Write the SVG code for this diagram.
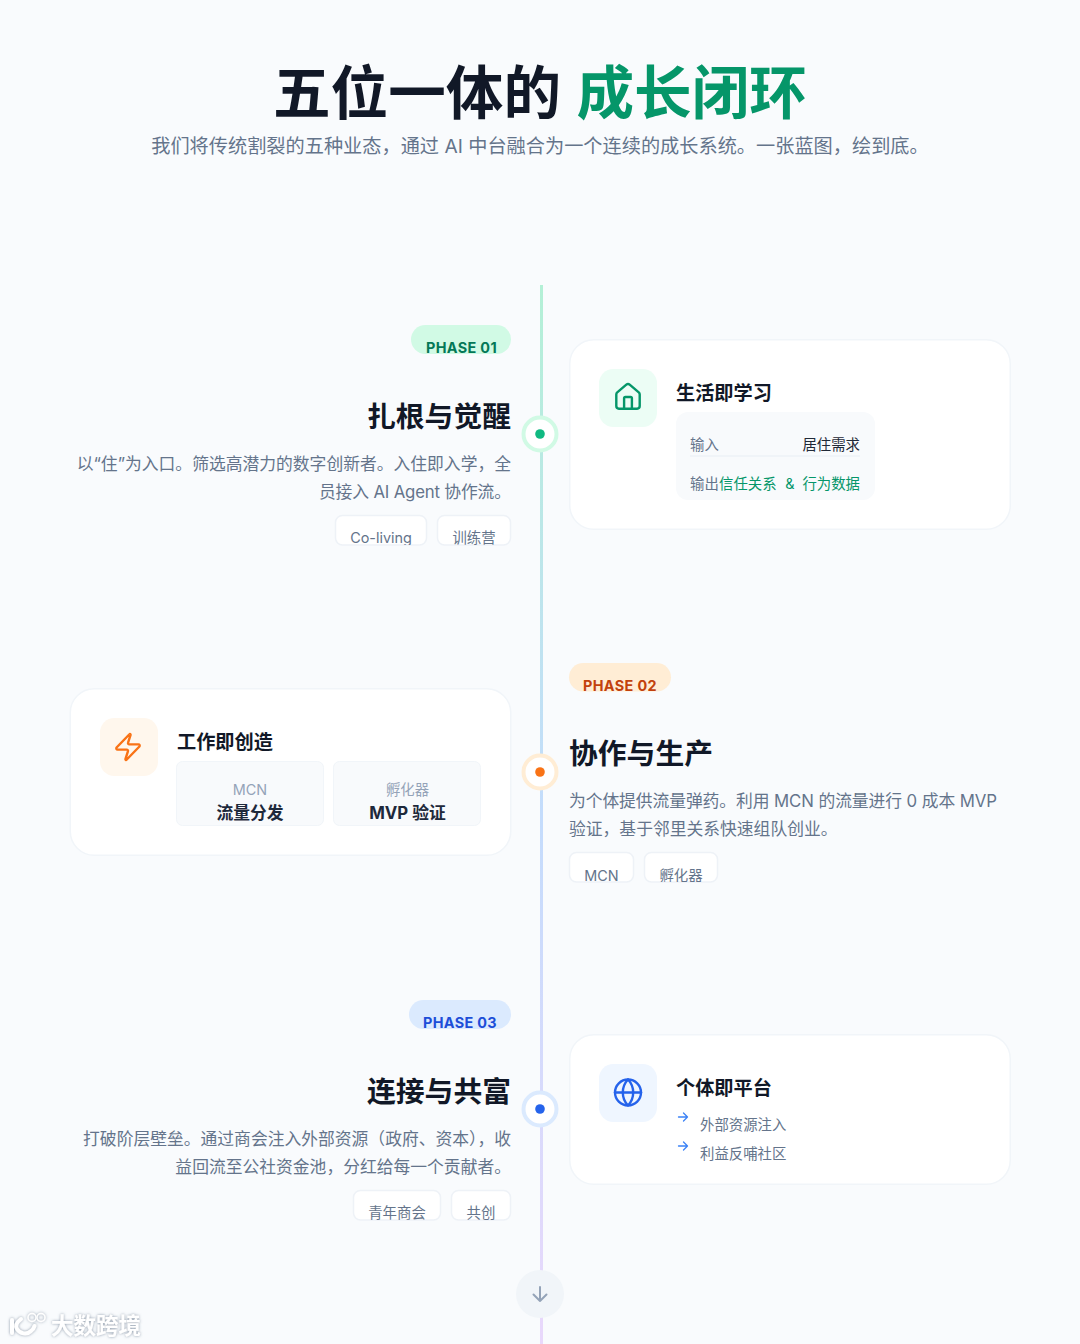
<svg xmlns="http://www.w3.org/2000/svg" width="1080" height="1344" viewBox="0 0 1080 1344">
<style>
text{font-family:"Inter","Noto Sans CJK SC",sans-serif;text-spacing-trim:space-all}
.h{font-size:28.8px;font-weight:700;fill:#111827}
.b{font-size:16.8px;fill:#64748b}
.e{text-anchor:end}
.m{text-anchor:middle}
.p{font-size:14.4px;font-weight:700;letter-spacing:.36px}
.tag{fill:#fff;stroke:#eef2f7;stroke-width:1.5}
.t{font-size:14.4px;fill:#64748b}
.card{fill:#fff;stroke:#f1f5f9;stroke-width:1.5}
.ct{font-size:19.2px;font-weight:700;fill:#111827}
.s{font-size:14.4px}
.ic{fill:none;stroke-width:1.85;stroke-linecap:round;stroke-linejoin:round}
.ar{fill:none;stroke:#3b82f6;stroke-width:1.3;stroke-linecap:round;stroke-linejoin:round}
.trim{text-spacing-trim:normal}
</style>
<defs>
<linearGradient id="line" x1="0" y1="285" x2="0" y2="1344" gradientUnits="userSpaceOnUse">
<stop offset="0" stop-color="#b4f0d6"/><stop offset=".5" stop-color="#c4dcfc"/><stop offset="1" stop-color="#e9d8fb"/>
</linearGradient>
<clipPath id="c1"><rect x="335" y="515" width="176" height="30"/></clipPath>
<clipPath id="c2"><rect x="569" y="852" width="149" height="30"/></clipPath>
<clipPath id="c3"><rect x="353" y="1190" width="158" height="30"/></clipPath>
<filter id="ws" x="-20%" y="-30%" width="140%" height="160%"><feDropShadow dx="0" dy="0" stdDeviation="1.6" flood-color="#64748b" flood-opacity=".75"/></filter>
</defs>
<rect width="1080" height="1344" fill="#f9fbfd"/>
<g id="header">
<text x="273" y="114" font-size="57.600" font-weight="700" fill="#111827">五位一体的</text>
<text x="576.500" y="114" font-size="57.600" font-weight="700" fill="#059669">成长闭环</text>
<text x="540" y="153" class="m" font-size="19.200" fill="#64748b">我们将传统割裂的五种业态，通过 AI 中台融合为一个连续的成长系统。一张蓝图，绘到底。</text>
</g>
<g id="connectors">
<rect x="540" y="285" width="3" height="1059" fill="url(#line)"/>
</g>
<g id="dot1"><circle cx="540" cy="434" r="16.500" fill="#fff" stroke="#d1fae5" stroke-width="4"/><circle cx="540" cy="434" r="4.800" fill="#10b981"/></g>
<g id="dot2"><circle cx="540" cy="772" r="16.500" fill="#fff" stroke="#ffedd5" stroke-width="4"/><circle cx="540" cy="772" r="4.800" fill="#f97316"/></g>
<g id="dot3"><circle cx="540" cy="1109" r="16.500" fill="#fff" stroke="#dbeafe" stroke-width="4"/><circle cx="540" cy="1109" r="4.800" fill="#2563eb"/></g>
<g id="phase1">
<rect x="411" y="325" width="100" height="29" rx="14.400" fill="#d1fae5"/>
<text x="461.500" y="353" class="p m" fill="#047857">PHASE 01</text>
<text x="511" y="427" class="h e">扎根与觉醒</text>
<text x="511" y="470" class="b e">以“住”为入口。筛选高潜力的数字创新者。入住即入学，全</text>
<text x="511" y="497.500" class="b e" textLength="192" lengthAdjust="spacing">员接入 AI Agent 协作流。</text>
<rect class="tag" x="335.500" y="515.500" width="91" height="29.500" rx="7"/>
<rect class="tag" x="437.500" y="515.500" width="73" height="29.500" rx="7"/>
<g clip-path="url(#c1)"><text x="381" y="543" class="t m">Co-living</text><text x="474" y="543" class="t m">训练营</text></g>
</g>
<g id="card1">
<rect class="card" x="569.750" y="339.750" width="440.500" height="189.500" rx="24"/>
<rect x="599" y="369" width="58" height="58" rx="14.400" fill="#ecfdf5"/>
<g class="ic" stroke="#059669" transform="translate(612.400 381.400) scale(1.300)"><path d="M15 21v-8a1 1 0 0 0-1-1h-4a1 1 0 0 0-1 1v8"/><path d="M3 10a2 2 0 0 1 .709-1.528l7-5.999a2 2 0 0 1 2.582 0l7 5.999A2 2 0 0 1 21 10v9a2 2 0 0 1-2 2H5a2 2 0 0 1-2-2z"/></g>
<text x="676" y="400" class="ct">生活即学习</text>
<rect x="676" y="412" width="199" height="88" rx="12" fill="#f8fafc"/>
<text x="690" y="450" class="s" fill="#64748b">输入</text>
<text x="860" y="450" class="s e" fill="#1f2937">居住需求</text>
<line x1="690" y1="456" x2="860" y2="456" stroke="#e8edf3" stroke-width="1.200"/>
<text x="690" y="489" class="s" fill="#64748b">输出</text>
<text x="719" y="489" class="s" fill="#059669">信任关系</text>
<text x="790" y="489" class="s m" fill="#059669">&amp;</text>
<text x="860" y="489" class="s e" fill="#059669">行为数据</text>
</g>
<g id="phase2">
<rect x="569" y="663" width="102" height="28.500" rx="14.250" fill="#ffedd5"/>
<text x="620" y="690.500" class="p m" fill="#c2410c">PHASE 02</text>
<text x="569" y="764" class="h">协作与生产</text>
<text x="569" y="807" class="b" textLength="428" lengthAdjust="spacing">为个体提供流量弹药。利用 MCN 的流量进行 0 成本 MVP</text>
<text x="569" y="834.500" class="b">验证，基于邻里关系快速组队创业。</text>
<rect class="tag" x="569.500" y="852.500" width="64" height="29.500" rx="7"/>
<rect class="tag" x="644.500" y="852.500" width="73" height="29.500" rx="7"/>
<g clip-path="url(#c2)"><text x="601.500" y="881" class="t m">MCN</text><text x="681" y="881" class="t m">孵化器</text></g>
</g>
<g id="card2">
<rect class="card" x="70.250" y="688.750" width="440.500" height="166.500" rx="24"/>
<rect x="100" y="718" width="58" height="58" rx="14.400" fill="#fff7ed"/>
<g class="ic" stroke="#f97316" transform="translate(112.400 731.400) scale(1.300)"><path d="M4 14a1 1 0 0 1-.78-1.630l9.900-10.200a.5.500 0 0 1 .86.460l-1.920 6.020A1 1 0 0 0 13 10h7a1 1 0 0 1 .78 1.630l-9.900 10.200a.5.500 0 0 1-.86-.460l1.920-6.020A1 1 0 0 0 11 14z"/></g>
<text x="177" y="749" class="ct">工作即创造</text>
<rect x="176.500" y="761.500" width="147" height="64" rx="6" fill="#f8fafc" stroke="#f1f5f9"/>
<rect x="333.500" y="761.500" width="147" height="64" rx="6" fill="#f8fafc" stroke="#f1f5f9"/>
<text x="250" y="795" class="s m" fill="#94a3b8">MCN</text>
<text x="407.500" y="795" class="s m" fill="#94a3b8">孵化器</text>
<text x="250" y="818.500" class="m" font-size="16.800" font-weight="700" fill="#1e293b">流量分发</text>
<text x="407.500" y="818.500" class="m" font-size="16.800" font-weight="700" fill="#1e293b">MVP 验证</text>
</g>
<g id="phase3">
<rect x="409" y="1000" width="102" height="29" rx="14.400" fill="#dbeafe"/>
<text x="460" y="1028" class="p m" fill="#1d4ed8">PHASE 03</text>
<text x="511" y="1102" class="h e">连接与共富</text>
<text x="511" y="1145" class="b e trim">打破阶层壁垒。通过商会注入外部资源（政府、资本），收</text>
<text x="511" y="1172.500" class="b e">益回流至公社资金池，分红给每一个贡献者。</text>
<rect class="tag" x="353.500" y="1190.500" width="87" height="29.500" rx="7"/>
<rect class="tag" x="451.500" y="1190.500" width="59" height="29.500" rx="7"/>
<g clip-path="url(#c3)"><text x="397" y="1218" class="t m">青年商会</text><text x="481" y="1218" class="t m">共创</text></g>
</g>
<g id="card3">
<rect class="card" x="569.750" y="1034.750" width="440.500" height="149.500" rx="24"/>
<rect x="599" y="1064" width="58" height="58" rx="14.400" fill="#eff6ff"/>
<g class="ic" stroke="#2563eb" transform="translate(612.400 1076.900) scale(1.300)"><circle cx="12" cy="12" r="10"/><path d="M12 2a14.500 14.500 0 0 0 0 20 14.500 14.500 0 0 0 0-20"/><path d="M2 12h20"/></g>
<text x="676" y="1095" class="ct">个体即平台</text>
<path class="ar" d="M678.500 1117h9M683.500 1113l4 4-4 4"/>
<path class="ar" d="M678.500 1146h9M683.500 1142l4 4-4 4"/>
<text x="700" y="1130" class="s" fill="#64748b">外部资源注入</text>
<text x="700" y="1159" class="s" fill="#64748b">利益反哺社区</text>
</g>
<g id="next">
<circle cx="540" cy="1294" r="24" fill="#f1f5f9"/>
<path d="M540 1287v14M533.500 1294.500l6.500 6.500 6.500-6.500" fill="none" stroke="#94a3b8" stroke-width="2" stroke-linecap="round" stroke-linejoin="round"/>
</g>
<g id="watermark" filter="url(#ws)">
<path d="M12 1320v13" fill="none" stroke="#fff" stroke-width="4" stroke-linecap="round"/>
<path d="M21 1319c-5 4-6 7-4 10 3 5 10 6 14 2 2-1.500 3-3 3.500-5" fill="none" stroke="#fff" stroke-width="4" stroke-linecap="round"/>
<circle cx="32" cy="1317.500" r="4" fill="none" stroke="#fff" stroke-width="1.500"/>
<circle cx="41" cy="1317.500" r="4" fill="none" stroke="#fff" stroke-width="1.500"/>
<text x="51" y="1334" font-size="22.500" font-weight="700" fill="#fff">大数跨境</text>
</g>
</svg>
